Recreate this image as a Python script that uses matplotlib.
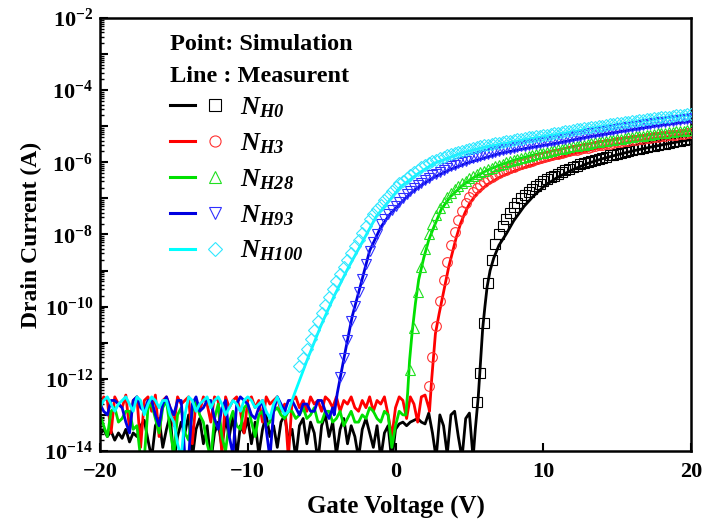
import numpy as np
import matplotlib
matplotlib.use("Agg")
import matplotlib.pyplot as plt
from matplotlib.lines import Line2D
from matplotlib.legend_handler import HandlerTuple

plt.rcParams['font.family'] = ['Liberation Serif', 'DejaVu Serif']
plt.rcParams['mathtext.fontset'] = 'custom'
plt.rcParams['mathtext.rm'] = 'Liberation Serif'
plt.rcParams['mathtext.it'] = 'Liberation Serif:italic'
plt.rcParams['mathtext.bf'] = 'Liberation Serif:bold'
plt.rcParams['mathtext.bfit'] = 'Liberation Serif:italic:bold'

# ---- data (log10 of drain current in A) ----
labels = ['H0', 'H3', 'H28', 'H93', 'H100']
colors = ['#000000', '#ff0000', '#00e000', '#0000e0', '#00ffff']
mcolors = ['#000000', '#ff3030', '#20e020', '#3030ff', '#30e8ff']
markers = ['s', 'o', '^', 'v', 'D']
noise_step = 0.25

# measured: noise floor sampled from -20 V every 0.25 V, then the turn-on part
noise_h0 = [-13.55, -13.4, -13.6, -13.45, -13.7, -13.5, -13.65, -13.4, -13.75, -13.5, -13.6, -13.3,
            -13.15, -13.7, -14.2, -13.3, -13.1, -13.9, -13.4, -13.0, -14.3, -13.6, -13.2, -13.5,
            -13.0, -14.2, -13.4, -13.1, -13.8, -13.3, -14.3, -13.5, -13.2, -13.9, -13.1, -13.6,
            -13.0, -14.2, -13.3, -13.5, -13.1, -13.8, -13.2, -14.1, -13.4, -13.0, -13.6, -13.3,
            -13.9, -13.2, -13.0, -13.7, -13.4, -14.2, -13.3, -13.1, -13.8, -13.2, -13.5, -14.3,
            -13.3, -13.0, -13.6, -13.2, -14.1, -13.4, -13.1, -13.8, -13.3, -13.6, -14.2, -13.4,
            -13.1, -13.5, -13.9, -13.3, -14.2, -13.5, -13.3, -14.3, -13.4, -13.25, -13.2, -13.3,
            -13.2, -13.15, -13.1, -13.2, -13.25, -12.95, -13.5, -14.2, -13.0, -13.3, -14.1, -13.0,
            -12.9, -13.6, -14.2, -13.1, -12.95, -14.2]
noise_h3 = [-12.9, -12.5, -12.6, -13.5, -12.5, -12.7, -12.8, -12.45, -13.4, -12.6, -12.5, -13.9,
            -12.6, -12.5, -12.9, -12.45, -13.6, -12.6, -12.5, -12.8, -13.3, -12.5, -12.7, -12.6,
            -12.5, -13.8, -12.6, -12.9, -12.5, -12.7, -13.2, -12.5, -12.6, -14.1, -12.5, -12.8,
            -12.6, -12.5, -12.9, -13.5, -12.6, -12.5, -12.8, -12.6, -13.2, -12.5, -12.7, -12.6,
            -12.5, -12.9, -12.7, -14.2, -12.6, -12.5, -12.8, -12.6, -12.9, -12.5, -12.7, -12.6,
            -12.9, -12.5, -12.6, -12.8, -12.5, -12.9, -12.6, -12.7, -12.5, -12.8, -12.9, -12.6,
            -12.8, -12.5, -12.9, -12.6, -12.7, -12.5, -13.0, -13.6, -12.8, -12.5, -12.6, -13.1,
            -12.5, -12.7, -13.2, -12.5, -12.45, -12.8]
noise_h28 = [-13.0, -13.3, -13.6, -12.9, -12.8, -13.2, -13.1, -12.9, -12.9, -13.4, -13.3, -14.2,
             -14.2, -12.8, -12.7, -13.1, -13.5, -12.8, -12.6, -13.4, -14.1, -13.0, -12.8, -13.5,
             -13.7, -12.9, -12.6, -13.0, -13.2, -13.8, -14.2, -13.1, -12.7, -13.6, -14.0, -13.2,
             -12.9, -13.3, -13.4, -12.8, -12.7, -13.2, -13.6, -13.0, -12.9, -13.3, -13.2, -12.9,
             -12.8, -13.0, -13.1, -12.9, -12.9, -13.1, -13.0, -12.8, -13.1, -13.0, -12.8, -13.2,
             -13.2, -12.9, -12.9, -13.2, -13.1, -12.9, -13.3, -13.1, -12.9, -13.2, -13.2, -13.0,
             -13.1, -12.8, -12.9, -13.1, -13.2, -12.9, -13.0, -13.9, -13.3, -12.9, -13.0]
noise_h93 = [-12.7, -12.9, -13.0, -12.6, -12.6, -12.7, -12.8, -13.2, -13.5, -12.6, -12.5, -12.8,
             -12.9, -12.6, -12.6, -13.0, -13.3, -12.7, -12.5, -12.8, -13.0, -12.6, -12.6, -14.2,
             -14.2, -12.7, -12.5, -12.9, -12.8, -12.6, -12.6, -13.1, -13.4, -12.8, -12.6, -13.6,
             -14.1, -12.7, -12.5, -12.6, -12.7, -13.0, -13.1, -12.8, -12.6, -13.4, -14.2, -12.9,
             -12.5, -12.7, -12.9, -12.6, -12.6, -12.8, -13.0, -12.7, -12.7, -12.9, -12.9, -12.6,
             -12.6, -12.9, -13.1, -12.8]
noise_h100 = [-12.8, -12.6, -12.5, -12.7, -12.9, -12.7, -12.6, -12.5, -12.7, -12.9, -12.5, -12.6,
              -13.0, -12.7, -12.5, -12.6, -12.8, -12.6, -12.6, -13.0, -13.2, -13.8, -14.2, -13.0,
              -12.5, -12.6, -12.9, -12.7, -12.6, -12.5, -12.8, -12.6, -12.5, -12.7, -13.0, -12.8,
              -12.6, -12.7, -12.9, -12.6, -12.5, -12.6, -12.8, -12.7, -12.6, -12.9, -13.1, -12.7,
              -12.5, -12.8, -13.0]

on_v_h0 = [5.4, 5.6, 5.75, 5.9, 6.05, 6.2, 6.4, 6.65, 7.0, 7.5, 8.0, 8.7, 9.3, 10.0,
           10.9, 12.0, 13.0, 14.0, 15.0, 16.0, 17.0, 18.0, 19.0, 20.0]
on_i_h0 = [-13.4, -12.5, -11.55, -10.6, -10.0, -9.45, -9.0, -8.65, -8.3, -7.98, -7.62,
           -7.22, -6.95, -6.68, -6.43, -6.2, -6.03, -5.9, -5.79, -5.69, -5.6, -5.52,
           -5.44, -5.37]
on_v_h3 = [2.3, 2.45, 2.7, 2.95, 3.15, 3.4, 3.6, 3.85, 4.1, 4.4, 4.7, 5.0, 5.5, 6.2,
           7.1, 8.0, 8.9, 10.0, 10.9, 12.0, 13.4, 15.0, 16.8, 18.5, 20.0]
on_i_h3 = [-12.9, -12.0, -10.75, -10.2, -9.8, -9.3, -8.9, -8.5, -8.1, -7.7, -7.4,
           -7.15, -6.87, -6.62, -6.4, -6.25, -6.12, -5.99, -5.89, -5.77, -5.63, -5.5,
           -5.38, -5.29, -5.22]
on_v_h28 = [0.7, 0.82, 0.95, 1.12, 1.35, 1.57, 1.91, 2.25, 2.59, 3.1, 3.72, 4.5, 5.3,
            6.2, 7.1, 8.2, 9.3, 10.9, 12.3, 14.0, 15.7, 17.5, 20.0]
on_i_h28 = [-13.0, -12.4, -11.5, -10.73, -9.9, -9.25, -8.65, -8.15, -7.8, -7.3, -6.95,
            -6.65, -6.42, -6.22, -6.07, -5.92, -5.8, -5.66, -5.54, -5.42, -5.32, -5.22,
            -5.12]
on_v_h93 = [-4.15, -3.94, -3.38, -2.93, -2.36, -1.75, -1.0, -0.4, 0.34, 1.01, 1.8,
            2.59, 3.7, 4.84, 6.0, 7.09, 9.0, 10.9, 13.0, 15.65, 17.8, 20.0]
on_i_h93 = [-13.0, -12.4, -11.2, -10.27, -9.4, -8.45, -7.8, -7.45, -7.13, -6.86, -6.62,
            -6.42, -6.2, -6.02, -5.88, -5.75, -5.6, -5.47, -5.3, -5.12, -4.98, -4.86]
on_v_h100 = [-7.25, -6.87, -5.97, -5.07, -4.17, -3.27, -2.5, -1.3, -0.3, 0.34, 1.5,
             2.6, 4.4, 6.0, 8.9, 11.0, 13.4, 16.5, 20.0]
on_i_h100 = [-12.9, -12.45, -11.47, -10.55, -9.72, -8.98, -8.4, -7.5, -7.0, -6.68,
             -6.32, -6.03, -5.75, -5.58, -5.36, -5.22, -5.05, -4.86, -4.68]

# simulation points, 0.25 V apart from the given start voltage
sim_step = 0.25
sim_start = [5.5, 2.25, 1.0, -3.75, -6.5]
sim_h0 = [-12.65, -11.85, -10.45, -9.35, -8.70, -8.25, -7.98, -7.76, -7.57, -7.40,
          -7.25, -7.12, -7.00, -6.90, -6.81, -6.73, -6.66, -6.59, -6.53, -6.47,
          -6.42, -6.37, -6.32, -6.27, -6.22, -6.18, -6.14, -6.10, -6.06, -6.02,
          -5.99, -5.96, -5.93, -5.90, -5.87, -5.84, -5.81, -5.79, -5.76, -5.74,
          -5.71, -5.69, -5.67, -5.64, -5.62, -5.60, -5.58, -5.56, -5.54, -5.52,
          -5.50, -5.48, -5.46, -5.44, -5.42, -5.40, -5.38, -5.36, -5.34]
sim_h3 = [-12.2, -11.4, -10.55, -9.85, -9.25, -8.75, -8.30, -7.92, -7.60, -7.34,
          -7.12, -6.95, -6.82, -6.71, -6.62, -6.54, -6.47, -6.41, -6.35, -6.30,
          -6.25, -6.20, -6.16, -6.12, -6.08, -6.05, -6.01, -5.98, -5.95, -5.92,
          -5.89, -5.86, -5.83, -5.81, -5.78, -5.76, -5.73, -5.71, -5.69, -5.67,
          -5.65, -5.63, -5.61, -5.59, -5.57, -5.55, -5.53, -5.51, -5.50, -5.48,
          -5.46, -5.45, -5.43, -5.42, -5.40, -5.39, -5.37, -5.36, -5.34, -5.33,
          -5.32, -5.30, -5.29, -5.28, -5.27, -5.25, -5.24, -5.23, -5.22, -5.21,
          -5.20, -5.19]
sim_h28 = [-11.75, -10.6, -9.6, -8.9, -8.4, -8.0, -7.7, -7.46, -7.27, -7.11,
           -6.97, -6.85, -6.75, -6.66, -6.58, -6.51, -6.44, -6.38, -6.33, -6.28,
           -6.23, -6.19, -6.15, -6.11, -6.07, -6.04, -6.00, -5.97, -5.94, -5.91,
           -5.88, -5.85, -5.83, -5.80, -5.78, -5.75, -5.73, -5.71, -5.69, -5.66,
           -5.64, -5.62, -5.60, -5.58, -5.56, -5.54, -5.52, -5.51, -5.49, -5.47,
           -5.45, -5.44, -5.42, -5.40, -5.39, -5.37, -5.36, -5.34, -5.33, -5.31,
           -5.30, -5.28, -5.27, -5.26, -5.24, -5.23, -5.22, -5.20, -5.19, -5.18,
           -5.17, -5.16, -5.14, -5.13, -5.12, -5.11, -5.10]
sim_h93 = [-11.95, -11.42, -10.92, -10.40, -9.99, -9.60, -9.22, -8.83, -8.45, -8.20,
           -7.98, -7.72, -7.58, -7.43, -7.31, -7.20, -7.09, -6.99, -6.88, -6.79,
           -6.71, -6.63, -6.56, -6.49, -6.43, -6.36, -6.31, -6.26, -6.21, -6.16,
           -6.11, -6.07, -6.03, -5.99, -5.95, -5.92, -5.89, -5.86, -5.83, -5.80,
           -5.77, -5.74, -5.71, -5.68, -5.66, -5.64, -5.62, -5.60, -5.58, -5.56,
           -5.54, -5.52, -5.50, -5.48, -5.47, -5.45, -5.43, -5.42, -5.40, -5.38,
           -5.36, -5.34, -5.32, -5.30, -5.28, -5.26, -5.24, -5.22, -5.20, -5.18,
           -5.17, -5.15, -5.13, -5.11, -5.10, -5.08, -5.06, -5.05, -5.03, -5.02,
           -5.00, -4.98, -4.97, -4.95, -4.94, -4.92, -4.91, -4.89, -4.88, -4.86,
           -4.85, -4.84, -4.82, -4.81, -4.80, -4.78]
sim_h100 = [-11.65, -11.42, -11.16, -10.91, -10.65, -10.41, -10.18, -9.95, -9.72, -9.51,
            -9.30, -9.10, -8.90, -8.71, -8.52, -8.33, -8.15, -7.96, -7.77, -7.58,
            -7.42, -7.30, -7.17, -7.05, -6.92, -6.80, -6.67, -6.58, -6.51, -6.43,
            -6.35, -6.28, -6.21, -6.14, -6.08, -6.01, -5.97, -5.93, -5.89, -5.85,
            -5.81, -5.77, -5.74, -5.70, -5.68, -5.65, -5.62, -5.60, -5.57, -5.55,
            -5.53, -5.51, -5.49, -5.47, -5.46, -5.44, -5.42, -5.40, -5.38, -5.36,
            -5.34, -5.32, -5.31, -5.29, -5.28, -5.26, -5.24, -5.23, -5.21, -5.19,
            -5.18, -5.16, -5.14, -5.13, -5.11, -5.09, -5.08, -5.06, -5.04, -5.03,
            -5.01, -5.00, -4.98, -4.97, -4.95, -4.94, -4.92, -4.91, -4.89, -4.88,
            -4.86, -4.85, -4.83, -4.82, -4.81, -4.79, -4.78, -4.77, -4.75, -4.74,
            -4.73, -4.71, -4.70, -4.69, -4.68, -4.66, -4.65]

noises = [noise_h0, noise_h3, noise_h28, noise_h93, noise_h100]
on_v = [on_v_h0, on_v_h3, on_v_h28, on_v_h93, on_v_h100]
on_i = [on_i_h0, on_i_h3, on_i_h28, on_i_h93, on_i_h100]
sims = [sim_h0, sim_h3, sim_h28, sim_h93, sim_h100]

fig = plt.figure(figsize=(7.03, 5.25), dpi=100)
ax = fig.add_axes([0.1422, 0.141, 0.8408, 0.8247])

handles = []
for k in range(5):
    nv = -20 + noise_step * np.arange(len(noises[k]))
    v = np.concatenate([nv, on_v[k]])
    i = 10.0 ** np.concatenate([noises[k], on_i[k]])
    ax.plot(v, i, color=colors[k], lw=2.0, zorder=2)
    sv = sim_start[k] + sim_step * np.arange(len(sims[k]))
    ax.plot(sv, 10.0 ** np.array(sims[k]), ls='none', marker=markers[k],
            mfc='none', mec=mcolors[k], mew=0.8, ms=7 if k != 4 else 6, zorder=3)
    lh = Line2D([], [], color=colors[k], lw=2.2)
    mh = Line2D([], [], ls='none', marker=markers[k], mfc='none', mec=mcolors[k],
                mew=0.8, ms=8 if k != 4 else 7)
    handles.append((lh, mh))

ax.set_yscale('log')
ax.set_xlim(-20, 20)
ax.set_ylim(1e-14, 1e-2)
ax.set_xticks([-20, -10, 0, 10, 20])
ax.set_xticklabels(['\u221220', '\u221210', '0', '10', '20'], fontsize=16, fontweight='bold')
yt = 10.0 ** np.arange(-14, -1)
ax.set_yticks(yt)
ax.set_yticklabels([r'$\mathbf{10^{%d}}$' % e if e % 2 == 0 else '' for e in range(-14, -1)],
                   fontsize=16)
ax.yaxis.set_minor_locator(matplotlib.ticker.LogLocator(base=10, subs=np.arange(2, 10), numticks=100))
ax.yaxis.set_minor_formatter(matplotlib.ticker.NullFormatter())
ax.tick_params(axis='both', which='major', direction='in', length=6, width=1.5,
               top=False, right=False)
ax.tick_params(axis='x', which='major', pad=8)
ax.tick_params(axis='y', which='major', pad=5)
ax.tick_params(axis='y', which='minor', direction='in', length=3, width=1.0, right=False)
ax.tick_params(axis='x', which='minor', bottom=False)
for s in ax.spines.values():
    s.set_linewidth(1.8)

ax.set_xlabel('Gate Voltage (V)', fontsize=18, fontweight='bold', labelpad=9)
ax.set_ylabel('Drain Current (A)', fontsize=17, fontweight='bold', labelpad=2)

ax.text(0.118, 0.938, 'Point: Simulation', transform=ax.transAxes, fontsize=17.5,
        fontweight='bold', va='center', ha='left')
ax.text(0.118, 0.866, 'Line : Measurent', transform=ax.transAxes, fontsize=17.5,
        fontweight='bold', va='center', ha='left')

leg = ax.legend(handles, [r'$\mathbfit{N}_{\mathbfit{%s}}$' % l for l in labels],
                handler_map={tuple: HandlerTuple(ndivide=None, pad=0.3)},
                loc='upper left', bbox_to_anchor=(0.118, 0.822), frameon=False,
                fontsize=19, handlelength=2.2, handletextpad=0.45, labelspacing=0.43,
                borderpad=0, borderaxespad=0)

fig.savefig('out.png', dpi=100)
